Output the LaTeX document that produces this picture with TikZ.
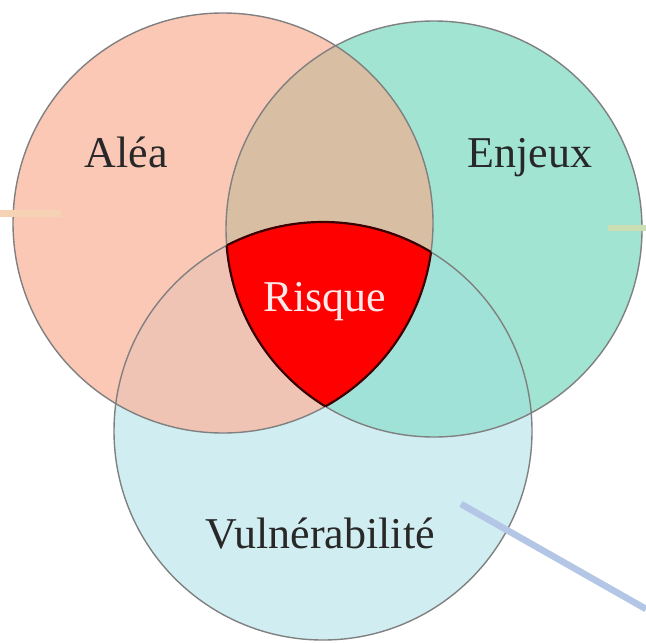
\documentclass[tikz,border=0pt]{standalone}
\usepackage{fontspec}
\setmainfont{Liberation Serif}
\usetikzlibrary{positioning}
\definecolor{aleafill}{RGB}{251,200,182}
\definecolor{enjeuxfill}{RGB}{161,228,210}
\definecolor{vulnfill}{RGB}{208,237,241}
\definecolor{aleaenjeux}{RGB}{216,190,162}
\definecolor{aleavuln}{RGB}{240,196,180}
\definecolor{enjeuxvuln}{RGB}{160,226,216}
\definecolor{risquefill}{RGB}{255,0,0}
\definecolor{risqueedge}{RGB}{60,0,0}
\definecolor{vennoutline}{RGB}{128,128,128}
\definecolor{venntext}{RGB}{40,40,40}
\definecolor{stubpeach}{RGB}{246,210,180}
\definecolor{stubgreen}{RGB}{204,223,180}
\definecolor{stubblue}{RGB}{180,198,230}
\tikzset{
    venn circle/.style={draw=vennoutline, line width=0.7pt},
    venn label/.style={font=\fontsize{22}{26}\selectfont, text=venntext, inner sep=0pt, anchor=base},
    risque edge/.style={draw=risqueedge, line width=1.1pt},
    stub line/.style={line width=3.3pt},
}

\begin{document}
\begin{tikzpicture}[x=0.5pt,y=-0.5pt]
    \useasboundingbox (0,0) rectangle (646,642);
    %Circle centres
    \coordinate (alea) at (223,223);
    \coordinate (enjeux) at (434,229);
    \coordinate (vuln) at (323,431);

    %Plain discs
    \fill[vulnfill] (vuln) circle[radius=104.5pt];
    \fill[aleafill] (alea) circle[radius=105pt];
    \fill[enjeuxfill] (enjeux) circle[radius=104pt];

    %Pairwise overlaps
    \begin{scope}
        \clip (alea) circle[radius=105pt];
        \fill[aleaenjeux] (enjeux) circle[radius=104pt];
        \fill[aleavuln] (vuln) circle[radius=104.5pt];
    \end{scope}
    \begin{scope}
        \clip (enjeux) circle[radius=104pt];
        \fill[enjeuxvuln] (vuln) circle[radius=104.5pt];
    \end{scope}

    %Triple overlap
    \begin{scope}
        \clip (alea) circle[radius=105pt];
        \clip (enjeux) circle[radius=104pt];
        \fill[risquefill] (vuln) circle[radius=104.5pt];
    \end{scope}

    \draw[venn circle] (alea) circle[radius=105pt];
    \draw[venn circle] (enjeux) circle[radius=104pt];
    \draw[venn circle] (vuln) circle[radius=104.5pt];

    %Outline of the red area
    \begin{scope}
        \clip (alea) circle[radius=105pt];
        \clip (enjeux) circle[radius=104pt];
        \draw[risque edge] (vuln) circle[radius=104.5pt];
    \end{scope}
    \begin{scope}
        \clip (alea) circle[radius=105pt];
        \clip (vuln) circle[radius=104.5pt];
        \draw[risque edge] (enjeux) circle[radius=104pt];
    \end{scope}
    \begin{scope}
        \clip (enjeux) circle[radius=104pt];
        \clip (vuln) circle[radius=104.5pt];
        \draw[risque edge] (alea) circle[radius=105pt];
    \end{scope}

    \node[venn label] (alea-label) at (126,167) {Aléa};
    \node[venn label] (enjeux-label) at (530,167) {Enjeux};
    \node[venn label, text={rgb,255:red,255;green,232;blue,232}] (risque-label) at (325,311) {Risque};
    \node[venn label] (vuln-label) at (320,548) {Vulnérabilité};

    %Stubs of lines coming from outside
    \coordinate (peach-a) at (0,213.5);
    \coordinate (peach-b) at (61,213.5);
    \coordinate (green-a) at (608,228);
    \coordinate (green-b) at (646,228);
    \coordinate (blue-a) at (461,504);
    \coordinate (blue-b) at (646,609);
    \draw[stub line, stubpeach] (peach-a) -- (peach-b);
    \draw[stub line, stubgreen] (green-a) -- (green-b);
    \draw[stub line, stubblue] (blue-a) -- (blue-b);
\end{tikzpicture}
\end{document}
